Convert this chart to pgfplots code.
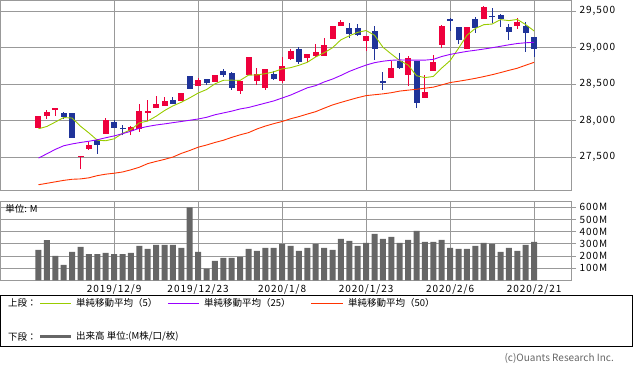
\documentclass[border=0pt]{standalone}
\usepackage{fontspec}
\setmainfont{Noto Sans CJK JP}
\newfontfamily\numfont[LetterSpace=10]{Noto Sans CJK JP}
\usepackage{pgfplots}
\usepackage{pgfplotstable}
\pgfplotsset{compat=1.18}
\definecolor{upred}{RGB}{238,0,60}
\definecolor{downblue}{RGB}{31,51,153}
\definecolor{maA}{RGB}{153,204,0}
\definecolor{maB}{RGB}{153,0,255}
\definecolor{maC}{RGB}{255,51,0}
\definecolor{gridgray}{RGB}{153,153,153}
\definecolor{volgray}{RGB}{102,102,102}
\definecolor{copygray}{RGB}{102,102,102}

\pgfplotstableread{
i o h l c
0 27905 28070 27900 28066
1 28070 28152 28029 28120
2 28150 28175 28065 28168
5 27498 27515 27330 27515
6 27614 27700 27600 27659
8 27823 28034 27823 28011
11 27856 27929 27796 27915
12 27888 28234 27850 28134
13 28111 28285 27990 28138
14 28179 28340 28179 28230
15 28207 28326 28207 28275
17 28275 28381 28275 28381
19 28481 28582 28481 28559
21 28536 28627 28530 28627
24 28412 28545 28371 28545
25 28627 28874 28627 28874
26 28545 28723 28490 28641
27 28449 28710 28422 28710
29 28545 28874 28518 28751
30 28847 28983 28833 28956
32 28860 28915 28805 28915
33 28888 29052 28874 28942
34 28888 29134 28888 29038
35 29121 29299 29121 29299
36 29299 29381 29299 29353
39 29093 29162 28956 29162
42 28582 28820 28582 28725
44 28627 28888 28481 28862
46 28316 28627 28316 28394
47 28686 28901 28686 28808
48 29040 29317 28990 29299
51 28983 29285 28983 29285
53 29395 29575 29395 29561
57 29299 29408 29258 29353
}\uptab

\pgfplotstableread{
i o h l c
3 28103 28120 28025 28048
4 28107 28110 27768 27768
7 27733 27746 27545 27672
9 27983 28007 27892 27901
10 27901 27942 27796 27883
16 28285 28326 28234 28234
18 28614 28614 28440 28440
20 28573 28573 28490 28514
22 28686 28710 28604 28627
23 28655 28668 28422 28449
28 28641 28682 28559 28573
31 28983 29011 28778 28805
37 29271 29340 29134 29189
38 29271 29326 29162 29175
40 29234 29299 28838 28988
41 28540 28668 28422 28522
43 28823 28933 28710 28727
45 28823 28823 28171 28248
49 29392 29406 29232 29373
50 29285 29285 29054 29100
52 29395 29425 29207 29273
54 29436 29545 29340 29418
55 29453 29463 29285 29393
56 29285 29326 29107 29220
58 29299 29353 28942 29203
59 29148 29148 28874 28983
}\downtab

\pgfplotstableread{
i m5 m25 m50
0 27888 27486 27120
1 27920 27545 27140
2 27980 27605 27160
3 28042 27655 27180
4 28035 27680 27195
5 27923 27700 27200
6 27831 27717 27215
7 27731 27737 27245
8 27724 27765 27265
9 27750 27790 27278
10 27825 27820 27295
11 27876 27855 27325
12 27969 27895 27360
13 27994 27920 27410
14 28060 27940 27440
15 28138 27955 27468
16 28202 27972 27500
17 28252 27988 27550
18 28312 28005 27590
19 28378 28022 27635
20 28426 28045 27665
21 28504 28080 27700
22 28553 28105 27730
23 28555 28130 27770
24 28552 28160 27805
25 28624 28180 27835
26 28627 28210 27885
27 28644 28240 27925
28 28669 28270 27958
29 28710 28310 27988
30 28726 28350 28025
31 28759 28400 28055
32 28800 28450 28090
33 28874 28480 28123
34 28931 28530 28170
35 29000 28570 28215
36 29109 28620 28250
37 29164 28675 28283
38 29211 28720 28315
39 29236 28762 28343
40 29172 28795 28355
41 29007 28815 28367
42 28914 28828 28383
43 28824 28833 28405
44 28763 28830 28418
45 28616 28830 28430
46 28590 28830 28445
47 28606 28840 28459
48 28721 28880 28490
49 28823 28908 28522
50 28992 28930 28540
51 29171 28950 28559
52 29264 28965 28580
53 29316 28982 28604
54 29325 29000 28630
55 29386 29020 28659
56 29372 29040 28690
57 29388 29058 28719
58 29317 29068 28760
59 29230 29075 28800
}\matab

\pgfplotstableread{
i v
0 249
1 331
2 200
3 126
4 233
5 274
6 216
7 216
8 225
9 216
10 216
11 225
12 282
13 258
14 290
15 290
16 290
17 266
18 600
19 233
20 96
21 159
22 184
23 184
24 192
25 258
26 241
27 266
28 266
29 299
30 282
31 241
32 266
33 299
34 266
35 249
36 340
37 323
38 282
39 307
40 381
41 340
42 356
43 307
44 332
45 405
46 315
47 315
48 332
49 266
50 258
51 258
52 282
53 307
54 299
55 233
56 266
57 241
58 290
59 315
}\voltab

\newcommand{\numsize}{\numfont\fontsize{10}{12}\selectfont}
\newcommand{\legsize}{\fontsize{9.5}{11}\selectfont}

\pgfplotsset{
  candle/.style 2 args={draw=none, fill=none, mark=none, forget plot,
    error bars/y dir=plus, error bars/y explicit, error bars/error mark=none,
    error bars/error bar style={draw=#1, solid, line width=#2}},
}

\begin{document}
\begin{tikzpicture}
\path[use as bounding box] (0pt,0pt) rectangle (633pt,-371pt);

\begin{axis}[
  at={(0pt,0pt)}, anchor=north west,
  scale only axis, width=571pt, height=190pt,
  xmin=-4.583, xmax=63.39, ymin=27048, ymax=29655,
  axis line style={draw=gridgray, line width=0.8pt},
  xtick={9,19,29,39,49,59}, xticklabels={},
  xtick style={draw=none},
  ytick={27500,28000,28500,29000,29500},
  ytick pos=right, yticklabel pos=right,
  tick align=outside, major tick length=5pt,
  ytick style={draw=gridgray, line width=0.8pt},
  grid=major, major grid style={draw=gridgray, line width=0.8pt},
  scaled y ticks=false,
  /pgf/number format/assume math mode=true,
  yticklabel style={font=\numsize, /pgf/number format/fixed, /pgf/number format/1000 sep={,}},
]
% wicks
\addplot[candle={upred}{1pt}]
  table[x=i, y=l, y error plus expr=\thisrow{h}-\thisrow{l}] {\uptab};
\addplot[candle={downblue}{1pt}]
  table[x=i, y=l, y error plus expr=\thisrow{h}-\thisrow{l}] {\downtab};
% bodies
\addplot[candle={upred}{6pt}]
  table[x=i, y=o, y error plus expr=\thisrow{c}-\thisrow{o}] {\uptab};
\addplot[candle={downblue}{6pt}]
  table[x=i, y=c, y error plus expr=\thisrow{o}-\thisrow{c}] {\downtab};
% moving averages
\addplot[maA, line width=0.9pt, mark=none] table[x=i, y=m5] {\matab};
\addplot[maB, line width=0.9pt, mark=none] table[x=i, y=m25] {\matab};
\addplot[maC, line width=0.9pt, mark=none] table[x=i, y=m50] {\matab};
\end{axis}

\begin{axis}[
  at={(0pt,-201.3pt)}, anchor=north west,
  scale only axis, width=571pt, height=79pt,
  xmin=-4.583, xmax=63.39, ymin=0, ymax=649,
  axis line style={draw=gridgray, line width=0.8pt},
  xtick={9,19,29,39,49,59},
  xticklabels={2019/12/9,2019/12/23,2020/1/8,2020/1/23,2020/2/6,2020/2/21},
  xtick style={draw=none},
  xticklabel style={font=\numsize, yshift=4.5pt},
  ytick={100,200,300,400,500,600},
  yticklabel={\pgfmathprintnumber{\tick}M},
  ytick pos=right, yticklabel pos=right,
  tick align=outside, major tick length=5pt,
  ytick style={draw=gridgray, line width=0.8pt},
  grid=major, major grid style={draw=gridgray, line width=0.8pt},
  /pgf/number format/assume math mode=true,
  yticklabel style={font=\numsize},
]
\addplot[ybar, bar width=6pt, bar shift=0pt, fill=volgray, draw=none] table[x=i, y=v] {\voltab};
\node[anchor=west, inner sep=0pt, font=\legsize] at (rel axis cs:0.009,0.9) {単位: M};
\end{axis}

% legend
\draw[black, line width=0.8pt] (0.4pt,-295.7pt) rectangle (632pt,-346pt);
\begin{scope}[every node/.style={anchor=west, inner sep=0pt, font=\legsize}]
\node at (8pt,-303.3pt) {上段：};
\draw[maA, line width=1pt] (40pt,-303.3pt) -- (71pt,-303.3pt);
\node at (76pt,-303.3pt) {単純移動平均（5）};
\draw[maB, line width=1pt] (168pt,-303.3pt) -- (199pt,-303.3pt);
\node at (204pt,-303.3pt) {単純移動平均（25）};
\draw[maC, line width=1pt] (311pt,-303.3pt) -- (343pt,-303.3pt);
\node at (348pt,-303.3pt) {単純移動平均（50）};
\node at (8pt,-336.7pt) {下段：};
\draw[volgray, line width=3pt] (40pt,-336.7pt) -- (71pt,-336.7pt);
\node at (76pt,-336.7pt) {出来高 単位:(M株/口/枚)};
\end{scope}
\node[anchor=east, inner sep=0pt, font=\fontsize{10}{12}\selectfont, text=copygray] at (614pt,-358.3pt) {(c)Ouants Research Inc.};
\end{tikzpicture}
\end{document}
